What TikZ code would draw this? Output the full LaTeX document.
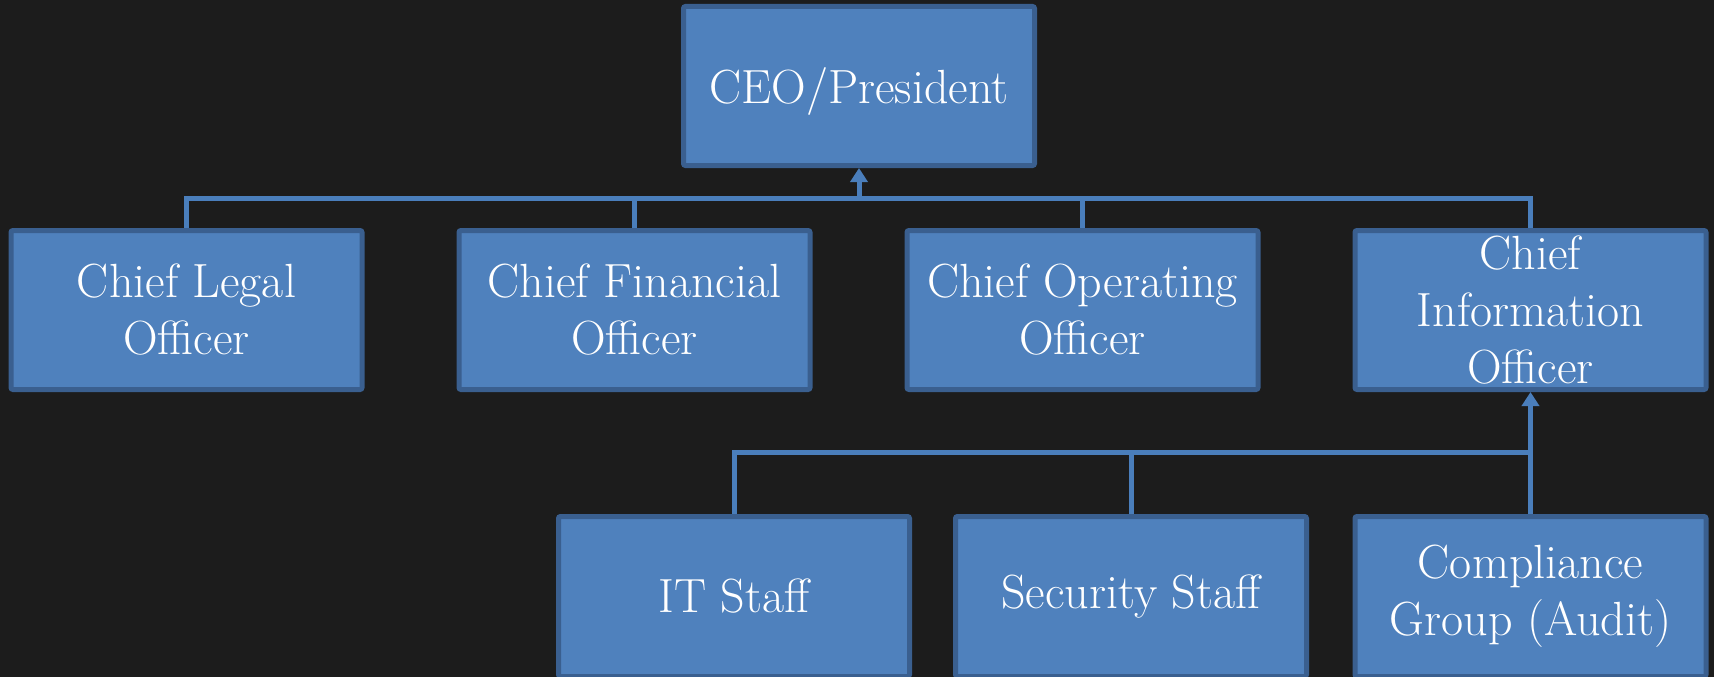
\documentclass[tikz,border=0pt]{standalone}
\usetikzlibrary{arrows.meta}
\definecolor{bg}{HTML}{1C1C1C}
\definecolor{boxfill}{HTML}{4F81BD}
\definecolor{boxedge}{HTML}{3A5F8F}
\definecolor{linecol}{HTML}{4A7EBB}
\begin{document}
\begin{tikzpicture}[x=1pt,y=-1pt,
  orgbox/.style={rectangle, rounded corners=2pt, fill=boxfill, draw=boxedge, line width=5pt,
     minimum width=351pt, minimum height=159pt, inner sep=0pt, align=center, text=white,
     font=\fontsize{48}{57}\selectfont},
  conn/.style={draw=linecol, line width=5pt},
  arr/.style={conn, -{Triangle[width=17pt,length=14pt]}}]
\fill[bg] (0,0) rectangle (1714,677);
\useasboundingbox (0,0) rectangle (1714,677);
\node[orgbox, text height=34pt, text depth=0pt] (ceo) at (859,86) {CEO/President};
\node[orgbox] (clo) at (186.5,310) {Chief Legal\\Officer};
\node[orgbox] (cfo) at (634.5,310) {Chief Financial\\Officer};
\node[orgbox] (coo) at (1082.5,310) {Chief Operating\\Officer};
\node[orgbox] (cio) at (1530.5,310) {Chief\\Information\\Officer};
\node[orgbox, minimum height=160pt] (it) at (734,596.5) {IT Staff};
\node[orgbox, minimum height=160pt] (sec) at (1131,596.5) {Security Staff};
\node[orgbox, minimum height=160pt] (comp) at (1530.5,596.5) {Compliance\\Group (Audit)};
\coordinate (j1) at (859,198);
\coordinate (j2) at (1530.5,452);
\draw[conn] (clo.north) |- (j1);
\draw[conn] (cfo.north) |- (j1);
\draw[conn] (coo.north) |- (j1);
\draw[conn] (cio.north) |- (j1);
\draw[arr] (j1) -- (ceo.south);
\draw[conn] (it.north) |- (j2);
\draw[conn] (sec.north) |- (j2);
\draw[conn] (comp.north) -- (j2);
\draw[arr] (j2) -- (cio.south);
\end{tikzpicture}
\end{document}
